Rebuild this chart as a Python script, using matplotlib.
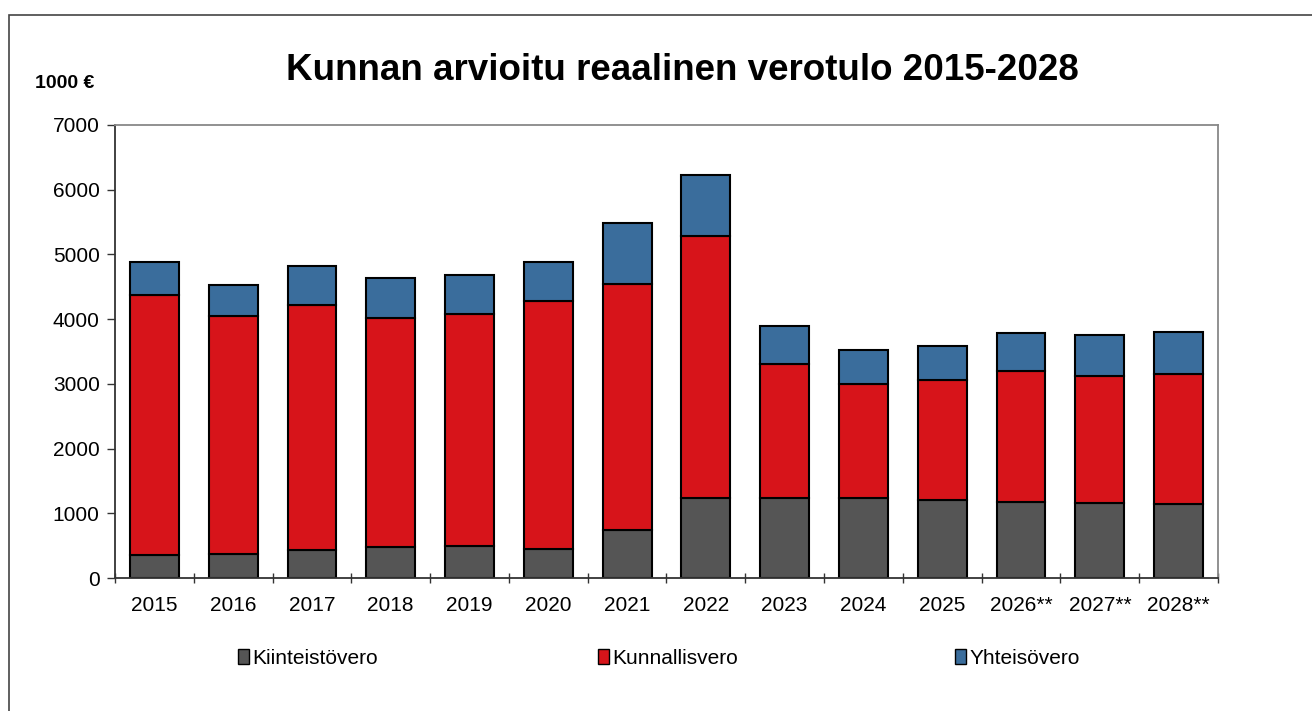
import matplotlib
matplotlib.use("Agg")
import matplotlib.pyplot as plt
from matplotlib.patches import Rectangle, Patch

plt.rcParams['font.family'] = ['Liberation Sans', 'DejaVu Sans']

years = ['2015', '2016', '2017', '2018', '2019', '2020', '2021', '2022',
         '2023', '2024', '2025', '2026**', '2027**', '2028**']
kiinteistovero = [363, 374, 429, 478, 494, 443, 741, 1241, 1241, 1239, 1213, 1178, 1162, 1136]
kunnallisvero = [4014, 3673, 3794, 3542, 3591, 3842, 3796, 4037, 2068, 1760, 1847, 2021, 1960, 2017]
yhteisovero = [500, 479, 594, 616, 593, 602, 947, 957, 591, 529, 530, 587, 633, 643]

colors = ['#555555', '#d7141a', '#3a6d9c']
labels = ['Kiinteistövero', 'Kunnallisvero', 'Yhteisövero']

W, H = 1312, 711
fig = plt.figure(figsize=(W / 100, H / 100), dpi=100)
ax = fig.add_axes([115 / W, 1 - 578 / H, (1218 - 115) / W, (578 - 125) / H])

# outer frame of the chart object
fig.patches.append(Rectangle((9 / W, -0.1), 1.2, 1 - 15 / H + 0.1, transform=fig.transFigure,
                             fill=False, edgecolor='#444444', linewidth=1.2))

x = list(range(len(years)))
bottom2 = [a + b for a, b in zip(kiinteistovero, kunnallisvero)]
ax.bar(x, kiinteistovero, width=0.62, color=colors[0], edgecolor='black', linewidth=1.5)
ax.bar(x, kunnallisvero, width=0.62, bottom=kiinteistovero, color=colors[1], edgecolor='black', linewidth=1.5)
ax.bar(x, yhteisovero, width=0.62, bottom=bottom2, color=colors[2], edgecolor='black', linewidth=1.5)

ax.set_xlim(-0.5, len(years) - 0.5)
ax.set_ylim(0, 7000)
ax.set_yticks(range(0, 7001, 1000))
ax.set_xticks(x)
ax.set_xticklabels(years)
ax.set_xticks([i + 0.5 for i in range(-1, len(years))], minor=True)
ax.tick_params(axis='x', which='major', length=0, pad=13, labelsize=15)
ax.tick_params(axis='x', which='minor', length=7, width=1, color='#333333', direction='inout')
ax.tick_params(axis='y', length=6, width=1, color='#333333', labelsize=15, pad=5)

for side in ['left', 'bottom']:
    ax.spines[side].set_color('#333333')
    ax.spines[side].set_linewidth(1.3)
for side in ['top', 'right']:
    ax.spines[side].set_color('#888888')
    ax.spines[side].set_linewidth(1.3)

fig.text(682 / W, 1 - 70 / H, 'Kunnan arvioitu reaalinen verotulo 2015-2028',
         ha='center', va='center', fontsize=26.5, fontweight='bold')
fig.text(35 / W, 1 - 83 / H, '1000 €', ha='left', va='center', fontsize=14, fontweight='bold')

handles = [Patch(facecolor=c, edgecolor='black', linewidth=1) for c in colors]
for h, lab, xpos in zip(handles, labels, [238, 598, 955]):
    fig.legend([h], [lab], loc='center left', bbox_to_anchor=(xpos / W, 1 - 658 / H),
               frameon=False, fontsize=15, handlelength=0.55, handleheight=0.75,
               handletextpad=0.15, borderaxespad=0, borderpad=0)

fig.savefig('out.png', dpi=100, facecolor='white')
